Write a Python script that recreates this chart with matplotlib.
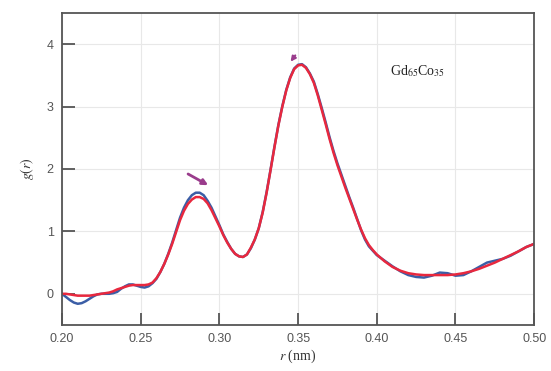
import matplotlib
matplotlib.use('Agg')
import matplotlib.pyplot as plt

plt.rcParams['mathtext.fontset'] = 'stix'

# g(r), r in nm (finer steps where the curve bends)
r = [0.2000, 0.2025, 0.2050, 0.2075, 0.2100, 0.2125, 0.2150, 0.2175,
     0.2200, 0.2225, 0.2250, 0.2275, 0.2300, 0.2325, 0.2350, 0.2375,
     0.2400, 0.2425, 0.2450, 0.2475, 0.2500, 0.2525, 0.2550, 0.2575,
     0.2600, 0.2625, 0.2650, 0.2675, 0.2700, 0.2725, 0.2750, 0.2775,
     0.2800, 0.2825, 0.2850, 0.2875, 0.2900, 0.2925, 0.2950, 0.2975,
     0.3000, 0.3025, 0.3050, 0.3075, 0.3100, 0.3125, 0.3150, 0.3175,
     0.3200, 0.3225, 0.3250, 0.3275, 0.3300, 0.3325, 0.3350, 0.3375,
     0.3400, 0.3425, 0.3450, 0.3475, 0.3500, 0.3525, 0.3550, 0.3575,
     0.3600, 0.3625, 0.3650, 0.3675, 0.3700, 0.3725, 0.3750, 0.3775,
     0.3800, 0.3825, 0.3850, 0.3875, 0.3900, 0.3925, 0.3950, 0.3975,
     0.4000, 0.4050, 0.4100, 0.4150, 0.4200, 0.4250, 0.4300, 0.4350,
     0.4400, 0.4450, 0.4500, 0.4550, 0.4600, 0.4650, 0.4700, 0.4750,
     0.4800, 0.4850, 0.4900, 0.4950, 0.5000]
g_red = [0.00, 0.00, -0.01, -0.02, -0.03, -0.03, -0.03, -0.03,
         -0.02, -0.01, 0.00, 0.01, 0.02, 0.04, 0.07, 0.09,
         0.11, 0.13, 0.14, 0.14, 0.14, 0.14, 0.15, 0.18,
         0.25, 0.35, 0.48, 0.63, 0.80, 0.99, 1.18, 1.33,
         1.44, 1.51, 1.55, 1.55, 1.52, 1.45, 1.34, 1.21,
         1.08, 0.94, 0.82, 0.72, 0.64, 0.60, 0.59, 0.63,
         0.74, 0.87, 1.05, 1.30, 1.62, 1.98, 2.35, 2.70,
         3.00, 3.26, 3.46, 3.60, 3.66, 3.67, 3.62, 3.52,
         3.38, 3.18, 2.95, 2.72, 2.48, 2.26, 2.06, 1.88,
         1.70, 1.53, 1.36, 1.19, 1.03, 0.89, 0.78, 0.70,
         0.63, 0.52, 0.43, 0.37, 0.33, 0.31, 0.30, 0.30,
         0.30, 0.30, 0.31, 0.33, 0.36, 0.40, 0.45, 0.50,
         0.56, 0.62, 0.68, 0.75, 0.80]
g_blue = [0.00, -0.05, -0.10, -0.14, -0.16, -0.15, -0.12, -0.08,
          -0.04, -0.01, 0.00, 0.00, 0.00, 0.01, 0.03, 0.08,
          0.12, 0.15, 0.15, 0.13, 0.11, 0.10, 0.12, 0.17,
          0.24, 0.35, 0.48, 0.64, 0.82, 1.02, 1.22, 1.38,
          1.50, 1.58, 1.62, 1.62, 1.58, 1.49, 1.38, 1.24,
          1.10, 0.95, 0.83, 0.72, 0.64, 0.60, 0.59, 0.63,
          0.73, 0.87, 1.05, 1.31, 1.63, 1.99, 2.36, 2.71,
          3.01, 3.27, 3.47, 3.61, 3.67, 3.68, 3.63, 3.53,
          3.40, 3.20, 2.98, 2.75, 2.51, 2.29, 2.09, 1.91,
          1.73, 1.55, 1.38, 1.20, 1.02, 0.87, 0.76, 0.69,
          0.62, 0.53, 0.44, 0.36, 0.30, 0.27, 0.26, 0.29,
          0.34, 0.33, 0.29, 0.30, 0.36, 0.43, 0.50, 0.53,
          0.56, 0.61, 0.68, 0.75, 0.80]

xticks = [0.20, 0.25, 0.30, 0.35, 0.40, 0.45, 0.50]
yticks = [0, 1, 2, 3, 4]

fig = plt.figure(figsize=(5.51, 3.71), dpi=100)
ax = fig.add_axes([0.1125, 0.124, 0.857, 0.841])

ax.plot(r, g_blue, color='#3b5ea6', lw=1.8)
ax.plot(r, g_red, color='#e8283e', lw=1.8)

# arrows
ax.annotate('', xy=(0.2929, 1.74), xytext=(0.2801, 1.92),
            arrowprops=dict(arrowstyle='-|>', color='#9a3c8c', lw=2,
                            mutation_scale=8, shrinkA=0, shrinkB=0))
ax.annotate('', xy=(0.3452, 3.72), xytext=(0.3482, 3.82),
            arrowprops=dict(arrowstyle='-|>', color='#9a3c8c', lw=1.5,
                            mutation_scale=7, shrinkA=0, shrinkB=0))

ax.text(0.4086, 3.57, r'Gd$_{65}$Co$_{35}$', family='Liberation Serif',
        fontsize=10, color='#222222', va='center')

ax.set_xlim(0.20, 0.50)
ax.set_ylim(-0.5, 4.5)
ax.set_xticks(xticks)
ax.set_xticklabels(['%.2f' % v for v in xticks])
ax.set_yticks(yticks)
ax.set_yticklabels([str(v) for v in yticks])
ax.grid(True, color='#e8e8e8', lw=0.8)
ax.set_axisbelow(True)

ax.tick_params(direction='in', length=9, width=1.3, color='#555555',
               labelcolor='#555555', labelsize=9, pad=6)
for lab in ax.get_xticklabels() + ax.get_yticklabels():
    lab.set_family('Liberation Sans')
for s in ax.spines.values():
    s.set_color('#555555')
    s.set_linewidth(1.3)

ax.set_xlabel(r'$r$ (nm)', family='Liberation Serif', fontsize=10,
              color='#333333', labelpad=2)
ax.set_ylabel(r'$g(r)$', family='Liberation Serif', fontsize=10,
              color='#333333', labelpad=8)

fig.savefig('out.png', dpi=100)
